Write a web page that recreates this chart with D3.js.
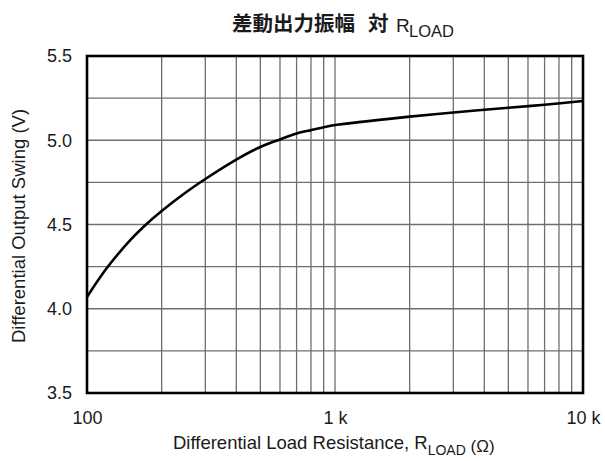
<!DOCTYPE html>
<html>
<head>
<meta charset="utf-8">
<script src="https://cdn.jsdelivr.net/npm/d3@7"></script>
<style>
  html, body { margin: 0; padding: 0; background: #fff; }
  svg { display: block; }
  text { font-family: "Liberation Sans", Arial, Helvetica, sans-serif; fill: #1a1a1a; }
</style>
</head>
<body>
<svg id="chart" width="605" height="461"></svg>
<script>
// Load resistance (Ω) and differential output swing (V)
const loadOhms = [100, 120, 150, 170, 200, 250, 300, 400, 500, 600, 700, 800, 900, 1000, 2000, 3000, 5000, 7000, 10000];
const swingVolts = [4.07, 4.24, 4.41, 4.49, 4.58, 4.69, 4.77, 4.885, 4.96, 5.005, 5.04, 5.06, 5.077, 5.09, 5.14, 5.165, 5.193, 5.211, 5.233];

const xTickValues = [100, 1000, 10000];
const xTickLabels = ["100", "1 k", "10 k"];
const yTickValues = [3.5, 4.0, 4.5, 5.0, 5.5];
const yTickLabels = ["3.5", "4.0", "4.5", "5.0", "5.5"];
const yGridValues = [3.75, 4.0, 4.25, 4.5, 4.75, 5.0, 5.25];

const svg = d3.select("#chart");
const margin = { left: 87, right: 22, top: 56, bottom: 68 };
const W = 605, H = 461;

const x = d3.scaleLog().domain([100, 10000]).range([margin.left, W - margin.right]);
const y = d3.scaleLinear().domain([3.5, 5.5]).range([H - margin.bottom, margin.top]);

// Vertical grid: every decade subdivision
const xGridValues = [];
for (let d = 100; d < 10000; d *= 10) {
  for (let k = 2; k <= 9; k++) xGridValues.push(d * k);
}
xGridValues.push(1000);

const grid = svg.append("g").attr("stroke", "#6f6f6f").attr("stroke-width", 1.3);
grid.selectAll("line.v").data(xGridValues).join("line")
  .attr("class", "v")
  .attr("x1", d => x(d)).attr("x2", d => x(d))
  .attr("y1", y(3.5)).attr("y2", y(5.5));
grid.selectAll("line.h").data(yGridValues).join("line")
  .attr("class", "h")
  .attr("x1", x(100)).attr("x2", x(10000))
  .attr("y1", d => y(d)).attr("y2", d => y(d));

// Axes (tick labels only; frame drawn separately)
const xAxis = d3.axisBottom(x).tickValues(xTickValues)
  .tickFormat((d, i) => xTickLabels[i]).tickSize(0).tickPadding(18);
const gx = svg.append("g").attr("transform", `translate(0,${y(3.5)})`).call(xAxis);
gx.select(".domain").remove();
gx.selectAll("text").attr("font-size", 18).style("font-family", "'Liberation Sans', Arial, sans-serif").attr("fill", "#1a1a1a");

const yAxis = d3.axisLeft(y).tickValues(yTickValues)
  .tickFormat((d, i) => yTickLabels[i]).tickSize(0).tickPadding(15);
const gy = svg.append("g").attr("transform", `translate(${x(100)},0)`).call(yAxis);
gy.select(".domain").remove();
gy.selectAll("text").attr("font-size", 18).style("font-family", "'Liberation Sans', Arial, sans-serif").attr("fill", "#1a1a1a");

// Data curve
const line = d3.line()
  .x((d, i) => x(loadOhms[i]))
  .y((d, i) => y(swingVolts[i]))
  .curve(d3.curveCatmullRom.alpha(0.5));
svg.append("path")
  .datum(swingVolts)
  .attr("d", line)
  .attr("fill", "none")
  .attr("stroke", "#000")
  .attr("stroke-width", 2.6)
  .attr("stroke-linejoin", "round");

// Plot frame
svg.append("rect")
  .attr("x", x(100)).attr("y", y(5.5))
  .attr("width", x(10000) - x(100)).attr("height", y(3.5) - y(5.5))
  .attr("fill", "none").attr("stroke", "#000").attr("stroke-width", 2.6);

// Title
const cjk = "'Noto Sans CJK JP', 'Noto Sans CJK SC', sans-serif";
const title = svg.append("g");
title.append("text").attr("x", 232).attr("y", 31).attr("font-size", 20.5)
  .style("font-family", cjk).attr("font-weight", "bold").text("差動出力振幅");
title.append("text").attr("x", 368).attr("y", 31).attr("font-size", 20.5)
  .style("font-family", cjk).attr("font-weight", "bold").text("対");
title.append("text").attr("x", 396).attr("y", 31.5).attr("font-size", 19).text("R");
title.append("text").attr("x", 409).attr("y", 37).attr("font-size", 16.5).text("LOAD");

// X axis title
const xt = svg.append("text").attr("x", 173).attr("y", 449).attr("font-size", 18.5);
xt.append("tspan").text("Differential Load Resistance, R");
xt.append("tspan").text("LOAD").attr("font-size", 14).attr("dy", 6);
xt.append("tspan").text(" (Ω)").attr("font-size", 17).attr("dy", -3);

// Y axis title
svg.append("text")
  .attr("transform", `translate(25,226) rotate(-90)`)
  .attr("text-anchor", "middle").attr("font-size", 18.5)
  .text("Differential Output Swing (V)");
</script>
</body>
</html>
